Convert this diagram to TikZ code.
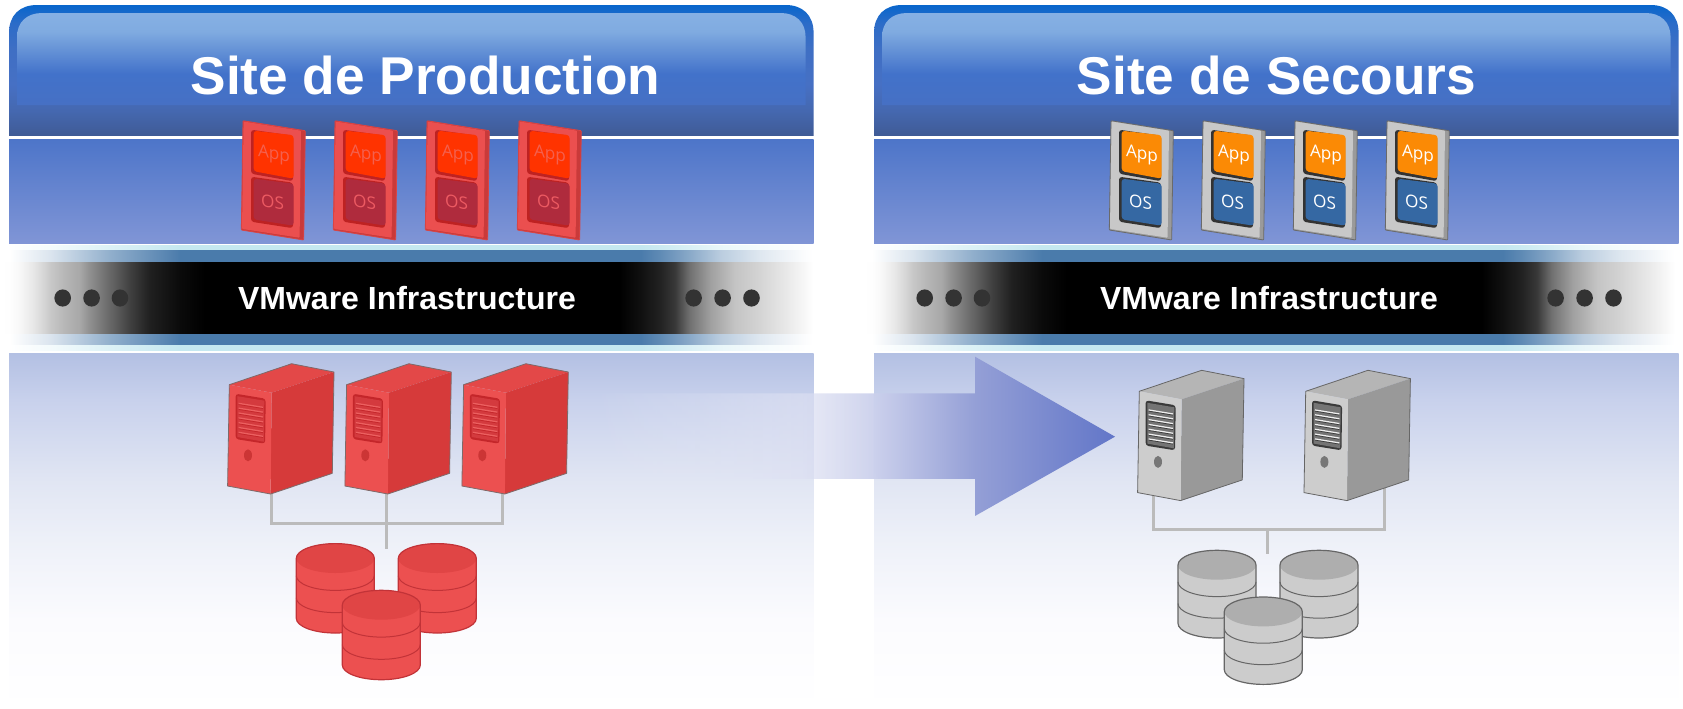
\documentclass[tikz,border=0pt]{standalone}
\usepackage{fontspec}
\setmainfont{Liberation Sans}
\newfontfamily\appfont{Open Sans}
\usetikzlibrary{fadings}
% palette
\definecolor{redface}{HTML}{EB4F4F}\definecolor{redside}{HTML}{C93A3A}\definecolor{redline}{HTML}{D94444}
\definecolor{redapp}{HTML}{FF3300}\definecolor{redos}{HTML}{AF2B3D}\definecolor{redshadow}{HTML}{BE2222}
\definecolor{redapptext}{HTML}{F4604E}\definecolor{redostext}{HTML}{EC5A62}
\definecolor{grayface}{HTML}{C8C8C8}\definecolor{grayside}{HTML}{9A9A9A}\definecolor{grayline}{HTML}{6A6A6A}
\definecolor{grayapp}{HTML}{FB8A05}\definecolor{grayos}{HTML}{3568A3}\definecolor{grayshadow}{HTML}{333333}
\definecolor{grayapptext}{HTML}{FFFFFF}\definecolor{grayostext}{HTML}{FFFFFF}
% servers
\definecolor{redsfront}{HTML}{EC5050}\definecolor{redstop}{HTML}{E34848}\definecolor{redsside}{HTML}{D63A3A}
\definecolor{redsedge}{HTML}{7E6A6A}\definecolor{redvent}{HTML}{C4262A}\definecolor{redvin}{HTML}{D43A3E}
\definecolor{redslat}{HTML}{EC6060}\definecolor{redknob}{HTML}{CC3535}
\definecolor{graysfront}{HTML}{CDCDCD}\definecolor{graystop}{HTML}{B5B5B5}\definecolor{graysside}{HTML}{999999}
\definecolor{graysedge}{HTML}{666666}\definecolor{grayvent}{HTML}{3A3A3A}\definecolor{grayvin}{HTML}{747474}
\definecolor{grayslat}{HTML}{F0F0F0}\definecolor{grayknob}{HTML}{777777}
% disks
\definecolor{reddbody}{HTML}{EC5050}\definecolor{reddtop}{HTML}{E04545}\definecolor{reddline}{HTML}{C23338}
\definecolor{graydbody}{HTML}{CCCCCC}\definecolor{graydtop}{HTML}{AEAEAE}\definecolor{graydline}{HTML}{666666}
\definecolor{wire}{HTML}{BBBBBB}
% gradients (25bp..75bp spans the bounding box)
\definecolor{h1}{HTML}{0866CC}\definecolor{h2}{HTML}{2C6CC8}\definecolor{h3}{HTML}{3F6FC4}\definecolor{h4}{HTML}{4670C4}
\definecolor{h5}{HTML}{4568B0}\definecolor{h6}{HTML}{3F5A94}
\definecolor{i1}{HTML}{86B0E4}\definecolor{i2}{HTML}{80ABE0}\definecolor{i3}{HTML}{4272CA}
\definecolor{steel}{HTML}{4A7BAB}\definecolor{cyanband}{HTML}{C5E8F0}
\definecolor{lowtop}{HTML}{4D75C9}\definecolor{lowbot}{HTML}{8095D6}
\definecolor{b1}{HTML}{B3C0E3}\definecolor{b2}{HTML}{C8D1EC}\definecolor{b3}{HTML}{E0E5F3}\definecolor{b4}{HTML}{EDF0F8}\definecolor{b5}{HTML}{FBFBFE}
\definecolor{a1}{HTML}{E8EBF7}\definecolor{a2}{HTML}{DDE0F2}\definecolor{a3}{HTML}{CBD0EC}\definecolor{a4}{HTML}{949FD6}\definecolor{a5}{HTML}{6276C8}
\definecolor{gFE}{HTML}{FEFEFE}\definecolor{gF8}{HTML}{F8F8F8}\definecolor{gE8}{HTML}{E8E8E8}\definecolor{gD8}{HTML}{D8D8D8}\definecolor{gC8}{HTML}{C8C8C8}\definecolor{gB4}{HTML}{B4B4B4}\definecolor{gA8}{HTML}{A8A8A8}
\definecolor{g90}{HTML}{909090}\definecolor{g70}{HTML}{707070}\definecolor{g40}{HTML}{404040}\definecolor{g20}{HTML}{202020}\definecolor{g0A}{HTML}{0A0A0A}
\definecolor{g10}{HTML}{101010}\definecolor{g22}{HTML}{222222}\definecolor{g38}{HTML}{383838}\definecolor{gA0}{HTML}{A0A0A0}
\definecolor{gC4}{HTML}{C4C4C4}\definecolor{gD4}{HTML}{D4D4D4}\definecolor{gF4}{HTML}{F4F4F4}
\colorlet{st20}{steel!20!white}\colorlet{st61}{steel!61!white}\colorlet{st88}{steel!88!white}\colorlet{st65}{steel!65!white}
\colorlet{st38}{steel!38!white}\colorlet{st18}{steel!18!white}\colorlet{st02}{steel!2!white}
\colorlet{cy20}{cyanband!20!white}\colorlet{cy61}{cyanband!61!white}\colorlet{cy88}{cyanband!88!white}\colorlet{cy65}{cyanband!65!white}
\colorlet{cy38}{cyanband!38!white}\colorlet{cy18}{cyanband!18!white}\colorlet{cy02}{cyanband!2!white}
\definecolor{t75}{gray}{0.25}\definecolor{t35}{gray}{0.65}\definecolor{t5}{gray}{0.95}
\pgfdeclareverticalshading{hdrouter}{100bp}{color(0bp)=(h6);color(25bp)=(h6);color(35bp)=(h5);color(45bp)=(h4);color(58bp)=(h3);color(68bp)=(h2);color(75bp)=(h1);color(100bp)=(h1)}
\pgfdeclareverticalshading{hdrinner}{100bp}{color(0bp)=(h4);color(25bp)=(h4);color(42bp)=(i3);color(65bp)=(i2);color(75bp)=(i1);color(100bp)=(i1)}
% y 353..708 : bottom of the box is 25bp
\pgfdeclareverticalshading{basefade}{100bp}{color(0bp)=(white);color(25bp)=(white);color(37.4bp)=(b5);color(48.9bp)=(b4);color(57.4bp)=(b3);color(68.4bp)=(b2);color(75bp)=(b1);color(100bp)=(b1)}
\pgfdeclarehorizontalshading{blackfade}{100bp}{color(0bp)=(white);color(25bp)=(white);color(25.6bp)=(gFE);color(26.2bp)=(gF8);color(27bp)=(gE8);color(27.6bp)=(gD8);color(28.1bp)=(gC8);color(29.1bp)=(gB4);color(29.9bp)=(gA8);color(30.5bp)=(g90);color(31.5bp)=(g70);color(33bp)=(g40);color(34.2bp)=(g20);color(36.1bp)=(g0A);color(37.6bp)=(black);color(63.1bp)=(black);color(64.4bp)=(g10);color(65.6bp)=(g22);color(66.5bp)=(g38);color(67.4bp)=(g70);color(68.7bp)=(gA0);color(70.2bp)=(gC4);color(71.7bp)=(gD4);color(73.3bp)=(gE8);color(74.2bp)=(gF4);color(75bp)=(white);color(100bp)=(white)}
\pgfdeclarehorizontalshading{steelfade}{100bp}{color(0bp)=(white);color(25.6bp)=(white);color(28.1bp)=(st20);color(31.8bp)=(st61);color(36.1bp)=(steel);color(64.4bp)=(steel);color(65.6bp)=(st88);color(67.4bp)=(st65);color(69.3bp)=(st38);color(71.7bp)=(st18);color(74.5bp)=(st02);color(75bp)=(white);color(100bp)=(white)}
\pgfdeclarehorizontalshading{cyanfade}{100bp}{color(0bp)=(white);color(25.6bp)=(white);color(28.1bp)=(cy20);color(31.8bp)=(cy61);color(36.1bp)=(cyanband);color(64.4bp)=(cyanband);color(65.6bp)=(cy88);color(67.4bp)=(cy65);color(69.3bp)=(cy38);color(71.7bp)=(cy18);color(74.5bp)=(cy02);color(75bp)=(white);color(100bp)=(white)}
\pgfdeclarehorizontalshading{arrowcolor}{100bp}{color(0bp)=(a1);color(25bp)=(a1);color(45bp)=(a2);color(52.1bp)=(a3);color(61.7bp)=(a4);color(75bp)=(a5);color(100bp)=(a5)}
\pgfdeclarehorizontalshading{arrowalpha}{100bp}{color(0bp)=(black);color(25bp)=(black);color(35.5bp)=(t75);color(45bp)=(t35);color(52.1bp)=(t5);color(55bp)=(white);color(100bp)=(white)}
\tikzfading[name=arrowfade,shading=arrowalpha]
\tikzset{
  titletext/.style={anchor=base,text=white,font=\bfseries\fontsize{26.6}{30}\selectfont,inner sep=0pt},
  bandtext/.style={text=white,font=\bfseries\fontsize{16}{19}\selectfont,inner sep=0pt},
  icontext/.style={font=\appfont\fontsize{8.6}{10}\selectfont,inner sep=0pt,yslant=-0.16,transform shape},
  wireline/.style={draw=wire,line width=1.5pt},
  banddot/.style={fill=black!80,draw=none}
}
% virtual machine card
\newcommand\vmcard[3]{%
 \begin{scope}[shift={(#1,#2)},rounded corners=0.4pt]
  \fill[#3side,draw=#3line,line width=0.4pt] (0,0) -- (62.3,10) -- (60.7,119.3) -- (-1.7,109.3) -- cycle;
  \fill[#3face] (0.6,0.8) -- (58,10) -- (56.6,117) -- (-1,108.2) -- cycle;
  \fill[#3shadow,rounded corners=1.5pt] (8,9) -- (50,15) -- (50,60.5) -- (8,53) -- cycle;
  \fill[#3app,rounded corners=1.5pt] (10.7,10) -- (50.6,14.5) -- (50.6,58) -- (10.7,50.5) -- cycle;
  \fill[#3shadow,rounded corners=1.5pt] (8,56) -- (50,62) -- (50,107.5) -- (8,101) -- cycle;
  \fill[#3os,rounded corners=1.5pt] (10.7,58) -- (50.6,63) -- (50.6,105) -- (10.7,98.7) -- cycle;
  \node[icontext,text=#3apptext] (app#1) at (31,34.6) {App};
  \node[icontext,text=#3ostext] (os#1) at (29.6,81.6) {OS};
 \end{scope}}
% tower server
\newcommand\tower[3]{%
 \begin{scope}[shift={(#1,#2)}]
  \fill[#3stop] (0,0) -- (62.3,-21) -- (104.7,-12.7) -- (42.3,8) -- cycle;
  \fill[#3sside] (42.3,8) -- (104.7,-12.7) -- (103,88.6) -- (41.3,109.3) -- cycle;
  \fill[#3sfront] (0,0) -- (42.3,8) -- (41.3,109.3) -- (-1.7,101.3) -- cycle;
  \draw[#3sedge,line width=0.4pt,line join=round] (0,0) -- (62.3,-21) -- (104.7,-12.7) -- (103,88.6) -- (41.3,109.3) -- (-1.7,101.3) -- cycle;
  \fill[#3vent,rounded corners=1.5pt] (6.3,9) -- (36.4,14) -- (35.8,59) -- (6.3,54.3) -- cycle;
  \fill[#3vin] (8,11.5) -- (35,16) -- (34.5,57) -- (8,52.3) -- cycle;
  \foreach \k in {0,...,6}
    {\draw[#3vent,line width=0.35pt] (9.3,{19.8+4.83*\k}) -- (33.7,{23.8+4.83*\k});
     \draw[#3slat,line width=0.6pt] (9.3,{18.6+4.83*\k}) -- (33.7,{22.6+4.83*\k});}
  \fill[#3knob] (18.7,70.6) ellipse[x radius=4,y radius=6];
 \end{scope}}
% disk cylinder: x, y, palette, height of the stack
\newcommand\diskstack[4]{%
 \begin{scope}[shift={(#1,#2)}]
  \fill[#3dbody] (-39,0) -- (-39,#4) arc[start angle=180,end angle=0,x radius=39,y radius=14.7] -- (39,0) arc[start angle=0,end angle=-180,x radius=39,y radius=14.7] -- cycle;
  \fill[#3dtop] (0,0) ellipse[x radius=39,y radius=14.7];
  \draw[#3dline,line width=0.5pt] (-39,{#4*0.29}) arc[start angle=180,end angle=0,x radius=39,y radius=14.7];
  \draw[#3dline,line width=0.5pt] (-39,{#4*0.66}) arc[start angle=180,end angle=0,x radius=39,y radius=14.7];
  \draw[#3dline,line width=0.6pt] (-39,0) -- (-39,#4) arc[start angle=180,end angle=0,x radius=39,y radius=14.7] -- (39,0) arc[start angle=0,end angle=-180,x radius=39,y radius=14.7] -- cycle;
 \end{scope}}
% site frame
\newcommand\siteframe[1]{%
 \begin{scope}[shift={(#1,0)}]
  \shade[shading=hdrouter] (9,137) -- (9,33) .. controls (9,15) and (20,5) .. (37,5) -- (785.6,5) .. controls (802.6,5) and (813.6,15) .. (813.6,33) -- (813.6,137) -- cycle;
  \shade[shading=hdrinner] (17,105) -- (17,37) .. controls (17,22) and (27,13) .. (42,13) -- (780.6,13) .. controls (795.6,13) and (805.6,22) .. (805.6,37) -- (805.6,105) -- cycle;
  \fill[white] (9,136) rectangle (813.6,139);
  \shade[top color=lowtop,bottom color=lowbot] (9,139) rectangle (813.6,243);
  \shade[shading=basefade] (9,353) rectangle (813.6,708);
 \end{scope}}
% middleware band
\newcommand\band[1]{%
 \begin{scope}[shift={(#1,0)}]
  \shade[shading=cyanfade] (0,245) rectangle (813,250);
  \shade[shading=steelfade] (0,250) rectangle (813,262);
  \shade[shading=blackfade] (0,262) rectangle (813,334);
  \shade[shading=steelfade] (0,334) rectangle (813,345);
  \shade[shading=cyanfade] (0,345) rectangle (813,350);
  \foreach \d in {62.7,91.6,120,693.6,722.6,751.5}
    {\fill[banddot] (\d,298) ellipse[x radius=8.3,y radius=8.6];}
 \end{scope}}
\begin{document}
\begin{tikzpicture}[x=0.5pt,y=-0.5pt]
\useasboundingbox (0,0) rectangle (1683,708);
\fill[white] (0,0) rectangle (1683,708);
\siteframe{0}
\siteframe{865}
\band{0}
\band{862}
\node[titletext] (titleprod) at (425.5,94) {Site de Production};
\node[titletext] (titlesec) at (1276.5,94) {Site de Secours};
\node[bandtext] (infraprod) at (407,298) {VMware Infrastructure};
\node[bandtext] (infrasec) at (1269,298) {VMware Infrastructure};
% transfer arrow
\shade[shading=arrowcolor,path fading=arrowfade]
  (590,393.3) -- (975,393.3) -- (975,356.7) -- (1115,436.7) -- (975,516) -- (975,479) -- (590,479) -- cycle;
% connectors, production
\coordinate (sa) at (271.7,490);
\coordinate (sb) at (386,490);
\coordinate (sc) at (502.3,490);
\coordinate (busa) at (386,523);
\coordinate (dska) at (386,549);
\draw[wireline] (sa) |- (busa);
\draw[wireline] (sc) |- (busa);
\draw[wireline] (sb) -- (dska);
% connectors, standby
\coordinate (se) at (1153.3,490);
\coordinate (sf) at (1384,484);
\coordinate (busb) at (1267.7,529);
\coordinate (dskb) at (1267.7,554);
\draw[wireline] (se) |- (busb);
\draw[wireline] (sf) |- (busb);
\draw[wireline] (busb) -- (dskb);
% cards
\foreach \x in {243,335,427,519} {\vmcard{\x}{120.7}{red}}
\foreach \x in {1111,1203,1295,1387} {\vmcard{\x}{120.7}{gray}}
% towers
\foreach \x in {229.3,346.6,463.6} {\tower{\x}{384.7}{red}}
\tower{1139.3}{391.3}{gray}
\tower{1305.7}{391.3}{gray}
% disks
\diskstack{335.3}{558.3}{red}{60}
\diskstack{437.3}{558.3}{red}{60}
\diskstack{381.3}{605}{red}{60}
\diskstack{1217}{565}{gray}{58.3}
\diskstack{1319}{565}{gray}{58.3}
\diskstack{1263.3}{611.7}{gray}{58}
\end{tikzpicture}
\end{document}
